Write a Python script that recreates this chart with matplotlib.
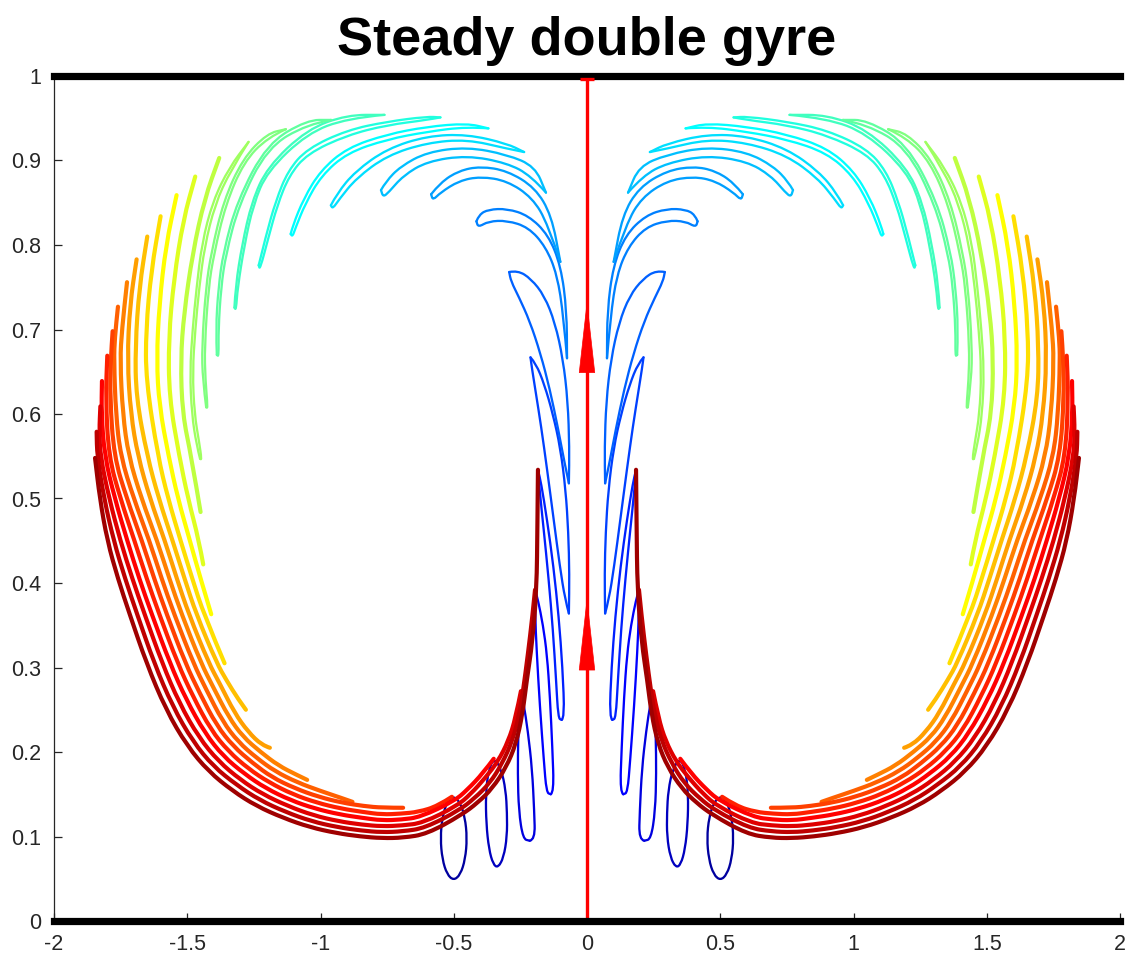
import numpy as np
import matplotlib
matplotlib.use("Agg")
import matplotlib.pyplot as plt
from matplotlib.path import Path
from matplotlib.patches import PathPatch, Polygon

plt.rcParams["font.family"] = ["Liberation Sans", "DejaVu Sans"]
plt.rcParams["axes.unicode_minus"] = False

# ---------------------------------------------------------------------------
# Blob snapshots in the right-hand gyre (the left gyre is the mirror image).
# Index = time step.  Early steps are closed loops (a ring, or two strands
# tail -> head and head -> tail); later steps are thin filaments given by
# their centre line from tail to head.
# ---------------------------------------------------------------------------

t00 = [(0.500, 0.048), (0.525, 0.055), (0.543, 0.073), (0.550, 0.098),
       (0.543, 0.123), (0.525, 0.141), (0.503, 0.148), (0.477, 0.141),
       (0.458, 0.123), (0.450, 0.098), (0.457, 0.073), (0.475, 0.055)]
t01 = [(0.334, 0.063), (0.352, 0.067), (0.368, 0.085), (0.378, 0.115),
       (0.380, 0.150), (0.370, 0.178), (0.349, 0.193), (0.322, 0.180),
       (0.305, 0.155), (0.300, 0.128), (0.300, 0.100), (0.313, 0.075)]

t02_a = [(0.215, 0.095), (0.240, 0.097), (0.256, 0.130), (0.260, 0.175),
         (0.258, 0.220), (0.254, 0.255), (0.249, 0.272)]
t02_b = [(0.249, 0.272), (0.238, 0.258), (0.222, 0.225), (0.206, 0.180),
         (0.198, 0.130), (0.195, 0.096), (0.215, 0.095)]

t03_a = [(0.136, 0.150), (0.152, 0.152), (0.162, 0.190), (0.177, 0.255),
         (0.189, 0.320), (0.195, 0.365), (0.195, 0.392)]
t03_b = [(0.195, 0.392), (0.184, 0.380), (0.165, 0.350), (0.150, 0.315),
         (0.139, 0.265), (0.130, 0.205), (0.124, 0.152), (0.136, 0.150)]

t04_a = [(0.095, 0.238), (0.108, 0.240), (0.116, 0.285), (0.128, 0.345),
         (0.144, 0.405), (0.163, 0.465), (0.178, 0.510), (0.184, 0.534)]
t04_b = [(0.184, 0.534), (0.172, 0.518), (0.150, 0.475), (0.126, 0.420),
         (0.106, 0.360), (0.092, 0.300), (0.084, 0.240), (0.095, 0.238)]

t05_a = [(0.068, 0.364), (0.066, 0.410), (0.070, 0.460), (0.080, 0.510),
         (0.100, 0.560), (0.128, 0.600), (0.160, 0.635), (0.192, 0.660),
         (0.212, 0.667)]
t05_b = [(0.212, 0.667), (0.207, 0.655), (0.192, 0.625), (0.172, 0.585),
         (0.150, 0.535), (0.125, 0.475), (0.102, 0.420), (0.082, 0.380),
         (0.068, 0.364)]

t06_a = [(0.068, 0.518), (0.066, 0.560), (0.072, 0.615), (0.090, 0.665),
         (0.120, 0.708), (0.160, 0.740), (0.210, 0.760), (0.260, 0.770),
         (0.292, 0.768)]
t06_b = [(0.292, 0.768), (0.285, 0.757), (0.255, 0.738), (0.215, 0.710),
         (0.175, 0.672), (0.140, 0.630), (0.108, 0.582), (0.083, 0.540),
         (0.068, 0.518)]

t07_a = [(0.075, 0.666), (0.076, 0.722), (0.098, 0.775), (0.145, 0.812),
         (0.220, 0.835), (0.300, 0.843), (0.370, 0.842), (0.405, 0.836),
         (0.415, 0.828)]
t07_b = [(0.415, 0.828), (0.408, 0.821), (0.370, 0.828), (0.300, 0.829),
         (0.220, 0.821), (0.155, 0.798), (0.112, 0.765), (0.088, 0.715),
         (0.075, 0.666)]

t08_a = [(0.100, 0.780), (0.133, 0.835), (0.195, 0.868), (0.300, 0.888),
         (0.400, 0.893), (0.480, 0.888), (0.550, 0.874), (0.585, 0.860)]
t08_b = [(0.585, 0.860), (0.578, 0.853), (0.550, 0.862), (0.480, 0.876),
         (0.400, 0.881), (0.300, 0.876), (0.205, 0.856), (0.147, 0.825),
         (0.100, 0.780)]

t09_a = [(0.154, 0.862), (0.195, 0.893), (0.300, 0.907), (0.450, 0.916),
         (0.600, 0.910), (0.700, 0.893), (0.755, 0.875), (0.773, 0.865)]
t09_b = [(0.773, 0.865), (0.765, 0.857), (0.745, 0.862), (0.690, 0.882),
         (0.600, 0.899), (0.450, 0.906), (0.300, 0.897), (0.210, 0.882),
         (0.154, 0.862)]

t10_a = [(0.236, 0.910), (0.300, 0.920), (0.450, 0.931), (0.600, 0.929),
         (0.750, 0.914), (0.870, 0.887), (0.938, 0.861), (0.961, 0.847)]
t10_b = [(0.961, 0.847), (0.954, 0.843), (0.930, 0.854), (0.866, 0.879),
         (0.750, 0.906), (0.600, 0.921), (0.450, 0.925), (0.300, 0.914),
         (0.236, 0.910)]

t11_a = [(0.370, 0.938), (0.450, 0.944), (0.600, 0.940), (0.750, 0.931),
         (0.900, 0.915), (1.000, 0.888), (1.063, 0.855), (1.104, 0.823),
         (1.112, 0.813)]
t11_b = [(1.112, 0.813), (1.105, 0.810), (1.094, 0.820), (1.057, 0.849),
         (0.997, 0.882), (0.900, 0.909), (0.750, 0.925), (0.600, 0.934),
         (0.450, 0.940), (0.370, 0.938)]

t12_a = [(0.550, 0.951), (0.600, 0.952), (0.750, 0.946), (0.900, 0.936),
         (1.050, 0.914), (1.122, 0.888), (1.168, 0.852), (1.204, 0.812),
         (1.232, 0.776)]
t12_b = [(1.232, 0.776), (1.227, 0.771), (1.196, 0.808), (1.162, 0.847),
         (1.118, 0.882), (1.050, 0.908), (0.900, 0.930), (0.750, 0.942),
         (0.600, 0.948), (0.550, 0.951)]

t13_a = [(0.760, 0.954), (0.900, 0.954), (1.050, 0.937), (1.200, 0.892),
         (1.258, 0.851), (1.294, 0.801), (1.319, 0.751), (1.323, 0.726)]
t13_b = [(1.323, 0.726), (1.317, 0.723), (1.311, 0.749), (1.286, 0.799),
         (1.252, 0.848), (1.200, 0.887), (1.050, 0.932), (0.900, 0.950),
         (0.760, 0.954)]

t14_a = [(0.960, 0.948), (1.050, 0.948), (1.200, 0.920), (1.313, 0.852),
         (1.365, 0.791), (1.383, 0.750), (1.393, 0.700), (1.389, 0.670)]
t14_b = [(1.389, 0.670), (1.382, 0.668), (1.383, 0.700), (1.373, 0.750),
         (1.355, 0.789), (1.306, 0.848), (1.200, 0.915), (1.050, 0.943),
         (0.960, 0.948)]

t15_a = [(1.130, 0.937), (1.200, 0.932), (1.292, 0.902), (1.364, 0.852),
         (1.410, 0.791), (1.430, 0.750), (1.445, 0.680), (1.442, 0.640),
         (1.429, 0.608)]
t15_b = [(1.429, 0.608), (1.423, 0.607), (1.432, 0.640), (1.435, 0.680),
         (1.420, 0.750), (1.400, 0.789), (1.356, 0.848), (1.288, 0.898),
         (1.200, 0.927), (1.130, 0.937)]

t16_a = [(1.270, 0.922), (1.342, 0.892), (1.404, 0.852), (1.445, 0.802),
         (1.465, 0.750), (1.480, 0.700), (1.490, 0.650), (1.483, 0.600),
         (1.465, 0.563), (1.452, 0.547)]
t16_b = [(1.452, 0.547), (1.446, 0.546), (1.455, 0.566), (1.473, 0.600),
         (1.480, 0.650), (1.470, 0.700), (1.455, 0.750), (1.435, 0.798),
         (1.396, 0.848), (1.338, 0.888), (1.270, 0.922)]

t17 = [(1.380, 0.903), (1.435, 0.855), (1.480, 0.790), (1.512, 0.720),
       (1.525, 0.664), (1.518, 0.600), (1.485, 0.550), (1.450, 0.484)]
t18 = [(1.470, 0.881), (1.515, 0.830), (1.550, 0.760), (1.570, 0.690),
       (1.568, 0.620), (1.530, 0.550), (1.497, 0.500), (1.456, 0.450),
       (1.440, 0.422)]
t19 = [(1.540, 0.859), (1.580, 0.800), (1.605, 0.730), (1.615, 0.664),
       (1.605, 0.610), (1.570, 0.550), (1.535, 0.500), (1.490, 0.450),
       (1.450, 0.405), (1.410, 0.363)]
t20 = [(1.600, 0.834), (1.635, 0.770), (1.655, 0.700), (1.655, 0.640),
       (1.610, 0.550), (1.572, 0.500), (1.525, 0.450), (1.481, 0.405),
       (1.438, 0.363), (1.360, 0.305)]
t21 = [(1.650, 0.810), (1.680, 0.750), (1.695, 0.680), (1.692, 0.620),
       (1.650, 0.550), (1.607, 0.500), (1.555, 0.450), (1.510, 0.405),
       (1.466, 0.363), (1.389, 0.305), (1.353, 0.285), (1.310, 0.263),
       (1.280, 0.250)]
t22 = [(1.690, 0.783), (1.715, 0.730), (1.725, 0.664), (1.712, 0.600),
       (1.685, 0.550), (1.640, 0.500), (1.584, 0.450), (1.539, 0.405),
       (1.494, 0.363), (1.419, 0.305), (1.378, 0.281), (1.322, 0.246),
       (1.272, 0.224), (1.220, 0.208), (1.190, 0.205)]
t23 = [(1.726, 0.756), (1.745, 0.700), (1.752, 0.664), (1.742, 0.600),
       (1.720, 0.550), (1.672, 0.500), (1.613, 0.450), (1.567, 0.405),
       (1.521, 0.363), (1.448, 0.305), (1.403, 0.277), (1.344, 0.241),
       (1.291, 0.218), (1.225, 0.200), (1.158, 0.184), (1.090, 0.173),
       (1.050, 0.167)]
t24 = [(1.760, 0.727), (1.772, 0.690), (1.775, 0.664), (1.768, 0.600),
       (1.750, 0.550), (1.701, 0.500), (1.642, 0.450), (1.596, 0.405),
       (1.549, 0.363), (1.477, 0.305), (1.429, 0.274), (1.367, 0.236),
       (1.309, 0.212), (1.240, 0.193), (1.170, 0.177), (1.087, 0.164),
       (1.001, 0.154), (0.925, 0.146), (0.880, 0.141)]
t25 = [(1.780, 0.698), (1.787, 0.664), (1.790, 0.620), (1.775, 0.550),
       (1.727, 0.500), (1.670, 0.450), (1.624, 0.405), (1.577, 0.363),
       (1.507, 0.305), (1.454, 0.270), (1.389, 0.231), (1.328, 0.207),
       (1.255, 0.187), (1.182, 0.170), (1.096, 0.157), (1.008, 0.147),
       (0.919, 0.140), (0.837, 0.136), (0.768, 0.134), (0.690, 0.134)]
t26 = [(1.800, 0.669), (1.806, 0.620), (1.795, 0.550), (1.751, 0.500),
       (1.698, 0.450), (1.652, 0.405), (1.605, 0.363), (1.536, 0.305),
       (1.479, 0.266), (1.411, 0.226), (1.346, 0.201), (1.270, 0.180),
       (1.193, 0.164), (1.105, 0.150), (1.014, 0.140), (0.923, 0.133),
       (0.840, 0.129), (0.769, 0.126), (0.698, 0.127), (0.633, 0.129),
       (0.560, 0.136), (0.507, 0.147)]
t27 = [(1.820, 0.639), (1.822, 0.600), (1.810, 0.550), (1.772, 0.500),
       (1.725, 0.450), (1.680, 0.405), (1.633, 0.363), (1.565, 0.305),
       (1.504, 0.262), (1.433, 0.222), (1.365, 0.195), (1.285, 0.174),
       (1.205, 0.157), (1.113, 0.143), (1.021, 0.133), (0.927, 0.126),
       (0.842, 0.122), (0.769, 0.119), (0.696, 0.120), (0.625, 0.123),
       (0.498, 0.142), (0.450, 0.155), (0.390, 0.175), (0.350, 0.192)]
t28 = [(1.826, 0.609), (1.830, 0.580), (1.826, 0.550), (1.793, 0.500),
       (1.751, 0.450), (1.706, 0.405), (1.660, 0.363), (1.594, 0.305),
       (1.530, 0.258), (1.456, 0.217), (1.383, 0.189), (1.300, 0.167),
       (1.217, 0.150), (1.122, 0.136), (1.027, 0.125), (0.932, 0.118),
       (0.845, 0.114), (0.769, 0.112), (0.694, 0.113), (0.616, 0.116),
       (0.489, 0.136), (0.437, 0.150), (0.380, 0.170), (0.334, 0.189),
       (0.295, 0.213), (0.268, 0.240), (0.248, 0.272)]
t29 = [(1.840, 0.579), (1.838, 0.550), (1.812, 0.500), (1.776, 0.450),
       (1.733, 0.405), (1.688, 0.363), (1.624, 0.305), (1.555, 0.254),
       (1.478, 0.212), (1.402, 0.183), (1.315, 0.161), (1.228, 0.143),
       (1.131, 0.129), (1.034, 0.118), (0.936, 0.111), (0.847, 0.107),
       (0.770, 0.105), (0.692, 0.106), (0.608, 0.110), (0.480, 0.131),
       (0.423, 0.145), (0.365, 0.163), (0.319, 0.186), (0.280, 0.213),
       (0.255, 0.243), (0.240, 0.272), (0.222, 0.315), (0.205, 0.360),
       (0.195, 0.392)]
t30 = [(1.846, 0.548), (1.828, 0.500), (1.800, 0.450), (1.760, 0.405),
       (1.716, 0.363), (1.653, 0.305), (1.580, 0.250), (1.500, 0.207),
       (1.420, 0.177), (1.330, 0.154), (1.240, 0.136), (1.140, 0.122),
       (1.040, 0.111), (0.940, 0.104), (0.850, 0.100), (0.770, 0.098),
       (0.690, 0.0985), (0.600, 0.103), (0.471, 0.1255), (0.410, 0.140),
       (0.355, 0.157), (0.303, 0.182), (0.266, 0.210), (0.242, 0.245),
       (0.226, 0.285), (0.205, 0.330), (0.189, 0.392), (0.186, 0.470),
       (0.184, 0.534)]

rings = {0: t00, 1: t01}
loops = {2: (t02_a, t02_b), 3: (t03_a, t03_b), 4: (t04_a, t04_b),
         5: (t05_a, t05_b), 6: (t06_a, t06_b), 7: (t07_a, t07_b),
         8: (t08_a, t08_b), 9: (t09_a, t09_b), 10: (t10_a, t10_b),
         11: (t11_a, t11_b), 12: (t12_a, t12_b), 13: (t13_a, t13_b),
         14: (t14_a, t14_b), 15: (t15_a, t15_b), 16: (t16_a, t16_b)}
filaments = {17: t17, 18: t18, 19: t19, 20: t20, 21: t21, 22: t22,
             23: t23, 24: t24, 25: t25, 26: t26, 27: t27, 28: t28,
             29: t29, 30: t30}
n_steps = 31

# Separatrix along x = 0 with arrowheads
arrow_base_y = [0.297, 0.649]
arrow_tip_y = [0.380, 0.731]
x_ticks = [-2, -1.5, -1, -0.5, 0, 0.5, 1, 1.5, 2]
x_tick_labels = ["-2", "-1.5", "-1", "-0.5", "0", "0.5", "1", "1.5", "2"]
y_ticks = [0, 0.1, 0.2, 0.3, 0.4, 0.5, 0.6, 0.7, 0.8, 0.9, 1]
y_tick_labels = ["0", "0.1", "0.2", "0.3", "0.4", "0.5", "0.6", "0.7",
                 "0.8", "0.9", "1"]


def matlab_jet(m):
    n = int(np.ceil(m / 4))
    u = np.concatenate([np.arange(1, n + 1) / n, np.ones(n - 1),
                        np.arange(n, 0, -1) / n])
    g = int(np.ceil(n / 2)) - (1 if m % 4 == 1 else 0) + np.arange(1, len(u) + 1)
    r = g + n
    b = g - n
    g = g[g <= m]
    r = r[r <= m]
    b = b[b >= 1]
    cmap = np.zeros((m, 3))
    cmap[r - 1, 0] = u[:len(r)]
    cmap[g - 1, 1] = u[:len(g)]
    cmap[b - 1, 2] = u[len(u) - len(b):]
    return cmap


def open_path(pts):
    p = np.asarray(pts, float)
    verts = [p[0], (p[0] + p[1]) / 2]
    codes = [Path.MOVETO, Path.LINETO]
    for i in range(1, len(p) - 1):
        end = (p[i] + p[i + 1]) / 2 if i < len(p) - 2 else p[i + 1]
        verts += [p[i], end]
        codes += [Path.CURVE3, Path.CURVE3]
    return Path(verts, codes)


def closed_path(pts):
    p = np.asarray(pts, float)
    mids = (p + np.roll(p, -1, axis=0)) / 2
    verts = [mids[-1]]
    codes = [Path.MOVETO]
    for i in range(len(p)):
        verts += [p[i], mids[i]]
        codes += [Path.CURVE3, Path.CURVE3]
    return Path(verts, codes)


def mirrored(pts, side):
    return [(side * x, y) for x, y in pts]


colors = matlab_jet(n_steps)

fig = plt.figure(figsize=(11.28, 9.55), dpi=100)
ax = fig.add_axes([54 / 1128, 34 / 955, 1066 / 1128, 845 / 955])
ax.set_xlim(-2, 2)
ax.set_ylim(0, 1)

thin = 1.65
thick = 3.0
for k in range(n_steps):
    c = colors[k]
    z = 2 + k * 0.01
    for side in (1, -1):
        if k in rings:
            ax.add_patch(PathPatch(closed_path(mirrored(rings[k], side)),
                                   facecolor="none", edgecolor=c, lw=thin,
                                   joinstyle="round", zorder=z))
        elif k in loops:
            for strand in loops[k]:
                ax.add_patch(PathPatch(open_path(mirrored(strand, side)),
                                       facecolor="none", edgecolor=c, lw=thin,
                                       capstyle="round", joinstyle="round",
                                       zorder=z))
        else:
            ax.add_patch(PathPatch(open_path(mirrored(filaments[k], side)),
                                   facecolor="none", edgecolor=c, lw=thick,
                                   capstyle="round", joinstyle="round",
                                   zorder=z))

# separatrix
ax.plot([0, 0], [0, 1], color="red", lw=2.4, zorder=5, clip_on=False)
ax.plot([-0.028, 0.028], [0.997, 0.997], color="red", lw=2.4, zorder=7,
        clip_on=False, solid_capstyle="butt")
for yb, yt in zip(arrow_base_y, arrow_tip_y):
    ax.add_patch(Polygon([(-0.029, yb), (0.029, yb), (0, yt)], closed=True,
                         facecolor="red", edgecolor="red", lw=0.5, zorder=5))

# walls
for yw in (0, 1):
    ax.plot([-2, 2], [yw, yw], color="black", lw=5.2, zorder=6,
            solid_capstyle="projecting", clip_on=False)

for s in ("top", "right", "bottom"):
    ax.spines[s].set_visible(False)
ax.spines["left"].set_color("#262626")
ax.spines["left"].set_linewidth(0.9)

ax.set_xticks(x_ticks)
ax.set_xticklabels(x_tick_labels)
ax.set_yticks(y_ticks)
ax.set_yticklabels(y_tick_labels)
ax.tick_params(direction="in", length=6, width=0.9, color="#262626",
               labelsize=15.5, labelcolor="#262626", pad=9)

fig.text(587 / 1128, 1 - 55 / 955, "Steady double gyre", ha="center",
         va="baseline", fontsize=39, fontweight="bold", color="black")

fig.savefig("out.png", dpi=100)
